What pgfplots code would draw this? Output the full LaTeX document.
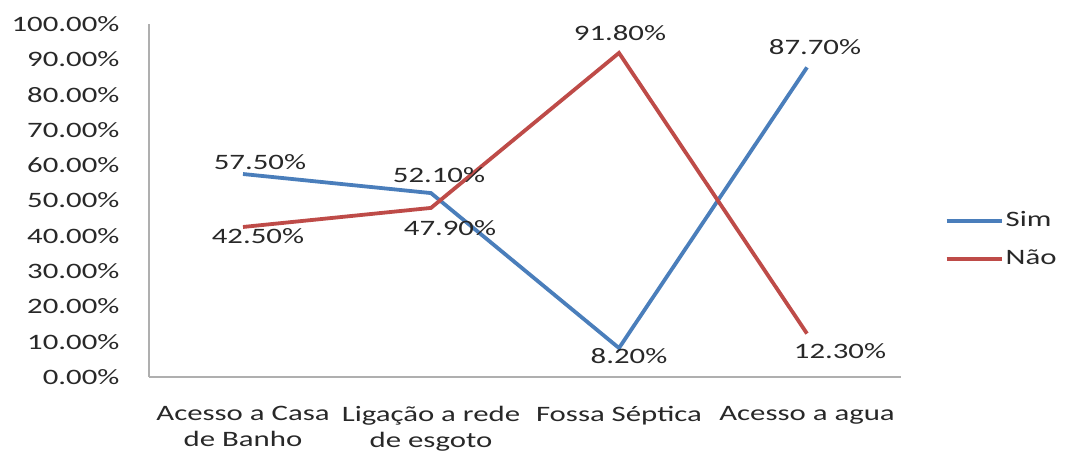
\documentclass[border=0pt]{standalone}
\usepackage{fontspec}
\setmainfont{Carlito}[FakeStretch=1.4]
\usepackage{pgfplots}
\pgfplotsset{compat=1.18}
\definecolor{simblue}{RGB}{74,126,187}
\definecolor{naored}{RGB}{190,75,72}
\definecolor{txt}{RGB}{40,40,40}
\definecolor{axgray}{RGB}{175,175,175}

\newcommand{\lbl}[4]{% x, y, dx, dy
  \addplot[draw=none, mark=none, forget plot,
    nodes near coords={\pgfmathprintnumber[fixed,fixed zerofill,precision=2]{\pgfplotspointmeta}\%},
    point meta=y,
    nodes near coords style={anchor=center, xshift=#3pt, yshift=#4pt,
      font=\fontsize{22}{27}\selectfont, text=txt,
      /pgf/number format/assume math mode=true}]
    coordinates {(#1,#2)};}

\begin{document}
\fontsize{22}{27}\selectfont
\begin{tikzpicture}[x=1pt,y=1pt]
\path[use as bounding box] (0,0) rectangle (1068,455);
\begin{axis}[
  at={(149pt,78pt)}, anchor=south west,
  scale only axis, width=752pt, height=353pt,
  xmin=-0.5, xmax=3.5, ymin=0, ymax=100,
  axis x line=bottom, axis y line=left,
  axis line style={draw=axgray, line width=1.2pt, -},
  xtick={0,1,2,3},
  xticklabels={{Acesso a Casa\\de Banho},{Ligação a rede\\de esgoto},{Fossa Séptica},{Acesso a agua}},
  xticklabel style={align=center, font=\fontsize{22}{26}\selectfont, text=txt, yshift=-22pt},
  ytick={0,10,...,100},
  yticklabel={\pgfmathprintnumber[fixed,fixed zerofill,precision=2]{\tick}\%},
  yticklabel style={font=\fontsize{22}{27}\selectfont, text=txt, xshift=-22pt},
  /pgf/number format/assume math mode=true,
  major tick length=0pt,
  tick style={draw=none},
  clip=false,
  legend style={at={(1.058,0.388)}, anchor=west, draw=none, fill=none,
    font=\fontsize{22}{27}\selectfont, text=txt, row sep=16pt,
    inner sep=0pt},
  legend cell align=left,
  legend image code/.code={\draw[#1, line width=3.8pt] (0pt,0pt) -- (55pt,0pt);},
]
\addplot[simblue, line width=3.8pt, mark=none] coordinates {(0,57.5) (1,52.1) (2,8.2) (3,87.7)};
\addlegendentry{Sim}
\addplot[naored, line width=3.8pt, mark=none] coordinates {(0,42.5) (1,47.9) (2,91.8) (3,12.3)};
\addlegendentry{Não}
\lbl{0}{57.5}{17}{12}
\lbl{1}{52.1}{8}{18}
\lbl{2}{8.2}{10}{-8}
\lbl{3}{87.7}{8}{20}
\lbl{0}{42.5}{15}{-9}
\lbl{1}{47.9}{19}{-20}
\lbl{2}{91.8}{1}{20}
\lbl{3}{12.3}{33}{-18}
\end{axis}
\end{tikzpicture}
\end{document}
